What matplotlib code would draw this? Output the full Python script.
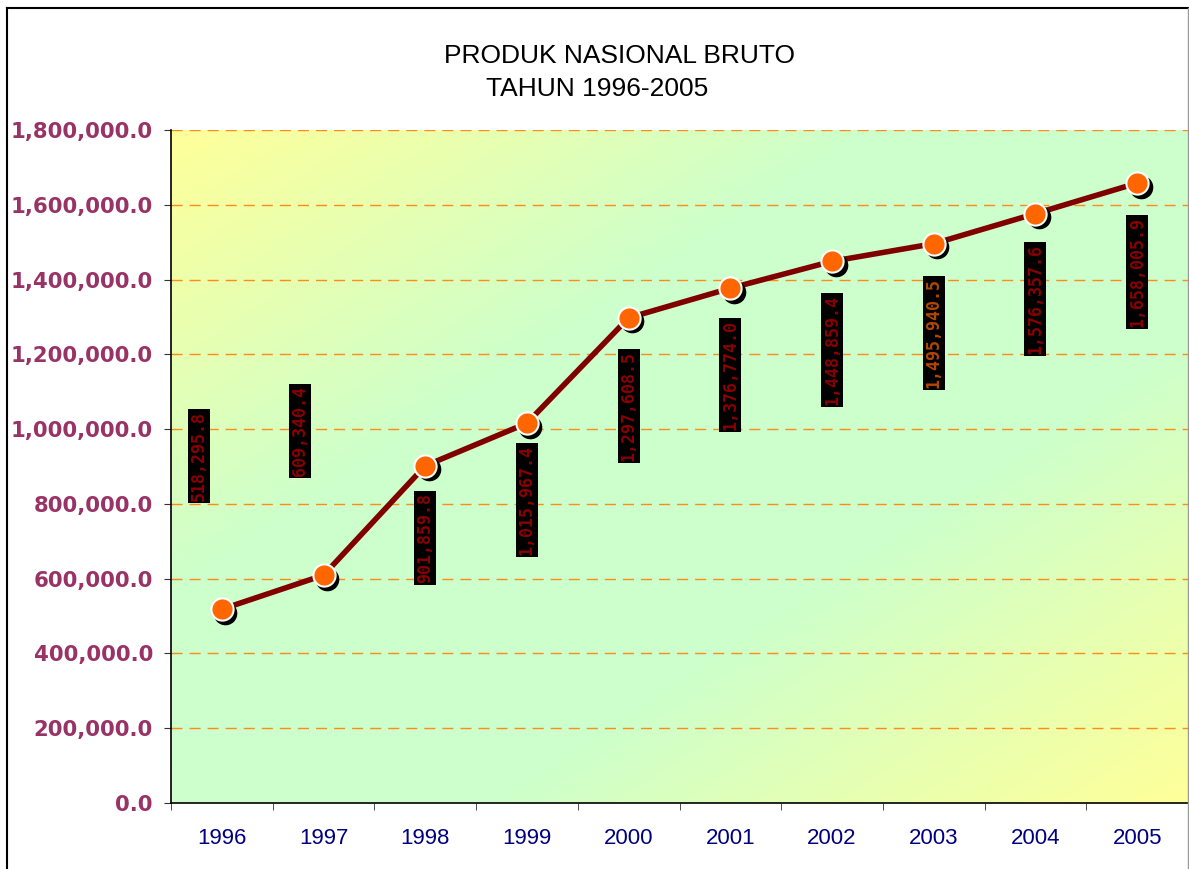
import matplotlib
matplotlib.use("Agg")
import matplotlib.pyplot as plt
import matplotlib.transforms as mtransforms
from matplotlib.lines import Line2D
import numpy as np

# data
years = ["1996", "1997", "1998", "1999", "2000", "2001", "2002", "2003", "2004", "2005"]
pnb = [518295.8, 609340.4, 901859.8, 1015967.4, 1297608.5,
       1376774.0, 1448859.4, 1495940.5, 1576357.6, 1658005.9]
label_text = ["518,295.8", "609,340.4", "901,859.8", "1,015,967.4", "1,297,608.5",
              "1,376,774.0", "1,448,859.4", "1,495,940.5", "1,576,357.6", "1,658,005.9"]

# label placement (pixels relative to each point) and colours
lab_dx = [-23, -24, 0, 0, 0, 0, 0, 0, 0, 0]
lab_dy = [153, 144, -72, -77, -88, -87, -89, -89, -85, -89]
lab_col = ["#8a0000"] * 7 + ["#b34700"] + ["#8a0000"] * 2

W, H = 1189, 869
fig = plt.figure(figsize=(W / 100, H / 100), dpi=100)
fig.patch.set_facecolor("white")
ax = fig.add_axes([171 / W, (H - 803) / H, (1188 - 171) / W, (803 - 130) / H])

# diagonal yellow-green-yellow background
nx, ny = 400, 300
u = np.linspace(0, 1, nx)[None, :]
v = np.linspace(0, 1, ny)[:, None]
d = (u + v) / 2.0
f = np.clip((np.abs(2 * d - 1) - 0.3) / 0.7, 0, 1)
yellow = np.array([1.0, 1.0, 0.6])
green = np.array([0.8, 1.0, 0.8])
img = green[None, None, :] * (1 - f[..., None]) + yellow[None, None, :] * f[..., None]
ax.imshow(img, extent=[0, 1, 0, 1], transform=ax.transAxes, aspect="auto", zorder=0)

x = np.arange(len(years))
ax.set_xlim(-0.5, len(years) - 0.5)
ax.set_ylim(0, 1800000)

# grid
for gy in np.arange(200000, 1800001, 200000):
    ax.axhline(gy, color="#ff8c1a", lw=1.0, ls=(0, (8, 5)), zorder=1)

# line + shadowed markers
ax.plot(x, pnb, color="#800000", lw=4, zorder=3, solid_capstyle="round")
shadow = mtransforms.offset_copy(ax.transData, fig=fig, x=3.5, y=-3.5, units="dots")
ax.plot(x, pnb, ls="none", marker="o", ms=16, mfc="black", mec="black", transform=shadow, zorder=4)
ax.plot(x, pnb, ls="none", marker="o", ms=16, mfc="#ff6600", mec="white", mew=1.5, zorder=5)

# value labels
for i in range(len(years)):
    ax.annotate(label_text[i], xy=(x[i], pnb[i]), xytext=(lab_dx[i], lab_dy[i]),
                textcoords="offset pixels", rotation=90, ha="center", va="center",
                fontsize=12, fontweight="bold", family="DejaVu Sans Mono", color=lab_col[i],
                bbox=dict(boxstyle="square,pad=0.12", fc="black", ec="none"), zorder=6)

# axes styling
ax.set_xticks(x)
ax.set_xticklabels(years)
ax.set_xticks(np.arange(-0.5, len(years), 1), minor=True)
ax.tick_params(axis="x", which="major", length=0, pad=18, labelsize=16, labelcolor="#000080")
ax.tick_params(axis="x", which="minor", length=5, direction="out", color="#333333")
for t in ax.get_xticklabels():
    t.set_family("Liberation Sans")

ax.set_yticks(np.arange(0, 1800001, 200000))
ax.set_yticklabels(["{:,.1f}".format(t) for t in np.arange(0, 1800001, 200000)])
ax.tick_params(axis="y", length=5, direction="out", color="#333333", pad=8,
               labelsize=15.3, labelcolor="#993366")
for t in ax.get_yticklabels():
    t.set_fontweight("bold")

for s in ["top", "right"]:
    ax.spines[s].set_visible(False)
for s in ["left", "bottom"]:
    ax.spines[s].set_color("black")
    ax.spines[s].set_linewidth(1.2)

# title
fig.text(619 / W, 1 - 56 / H, "PRODUK NASIONAL BRUTO", ha="center", va="center",
         fontsize=19, family="Liberation Sans", color="black")
fig.text(597 / W, 1 - 89 / H, "TAHUN 1996-2005", ha="center", va="center",
         fontsize=19, family="Liberation Sans", color="black")

# outer frame
fig.add_artist(Line2D([7 / W, 1], [1 - 8 / H, 1 - 8 / H], transform=fig.transFigure, color="black", lw=1.5))
fig.add_artist(Line2D([7 / W, 7 / W], [0, 1 - 8 / H], transform=fig.transFigure, color="black", lw=1.5))
fig.add_artist(Line2D([1188 / W, 1188 / W], [0, 1 - 8 / H], transform=fig.transFigure, color="#999999", lw=1))

fig.savefig("out.png", dpi=100)
